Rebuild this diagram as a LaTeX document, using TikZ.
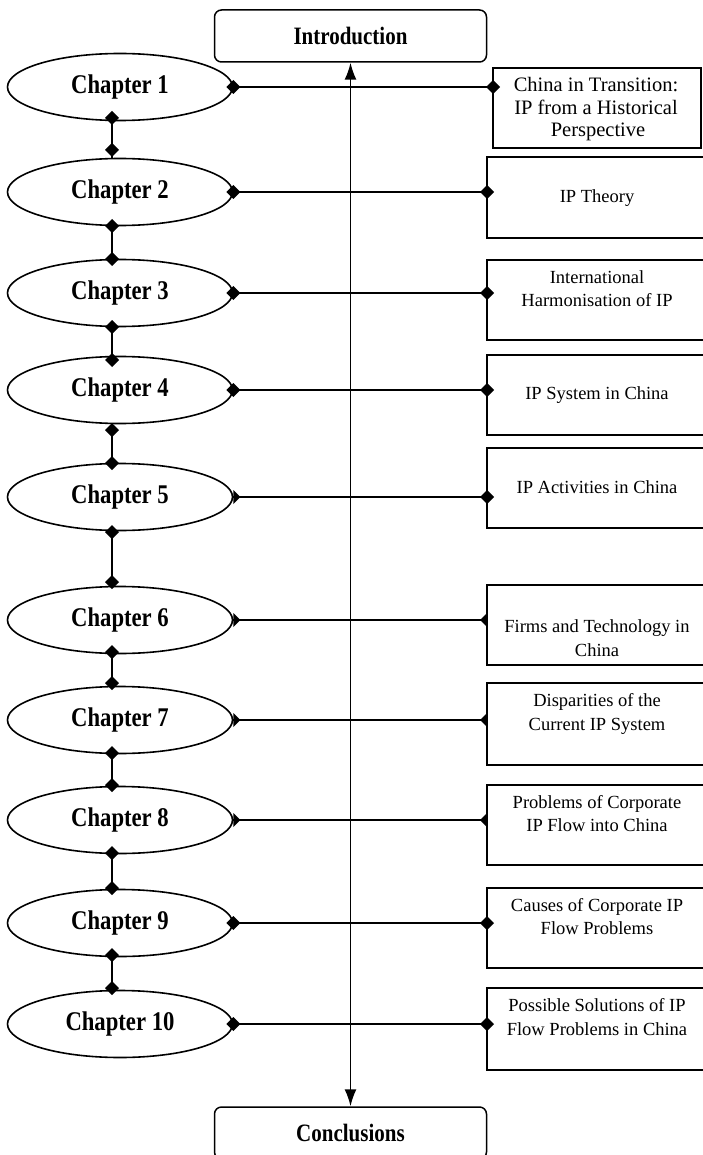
\documentclass[tikz,border=0pt]{standalone}
\usepackage{fontspec}
\setmainfont{Liberation Serif}
\newfontfamily\chapfont[FakeStretch=0.84]{Liberation Serif}
\usetikzlibrary{arrows.meta,shapes.geometric}

% filled markers on the connector ends
\newcommand\fulldia[1]{\fill (#1) +(-7,0) -- +(0,-7) -- +(7,0) -- +(0,7) -- cycle;}
\newcommand\halfright[1]{\fill (#1) +(0,-7) -- +(7,0) -- +(0,7) -- cycle;}
\newcommand\halfleft[1]{\fill (#1) +(0,-7) -- +(-7,0) -- +(0,7) -- cycle;}

\tikzset{
  chap/.style={ellipse, draw, line width=1.6pt, minimum width=225pt, minimum height=67pt,
    inner sep=0pt, font=\chapfont\bfseries\fontsize{27}{29}\selectfont},
  endbox/.style={rectangle, rounded corners=7pt, draw, line width=1.5pt, minimum width=272pt,
    minimum height=52pt, inner sep=0pt, font=\chapfont\bfseries\fontsize{25}{28}\selectfont},
  topic/.style={rectangle, draw, line width=1.5pt, anchor=north west, inner sep=0pt, outer sep=0pt},
  topictext/.style={align=center, inner sep=0pt, font=\fontsize{18.5}{23.5}\selectfont},
  link/.style={line width=1.6pt},
  spine/.style={line width=1.6pt, {Latex[length=17pt,width=12pt]}-{Latex[length=17pt,width=12pt]}}
}

\begin{document}
\begin{tikzpicture}[x=1pt, y=-1pt]
\useasboundingbox (0,0) rectangle (702,1155);

% introduction and conclusions
\node[endbox] (intro) at (350.5,36) {Introduction};
\node[endbox] (concl) at (350.5,1133) {Conclusions};

% chapters
\foreach \i/\y in {1/87,2/192,3/293,4/390,5/497,6/620,7/720,8/820,9/923,10/1024}
  \node[chap] (c\i) at (120,\y) {Chapter \i};

% topic boxes
\node[topic, minimum width=208pt, minimum height=80pt] (b1) at (493,68) {};
\foreach \i/\t/\b in {2/157/238,3/260/340,4/355/435,5/448/528,6/585/665,
                      7/683/765,8/785/865,9/888/968,10/988/1070}
  \node[topic, minimum width=225pt, minimum height={(\b-\t)*1pt}] (b\i) at (487,\t) {};

% topic texts
\node[topictext, font=\fontsize{20.5}{22.5}\selectfont] (t1) at (596,109.5)
  {China in Transition:\\IP from a Historical\hspace*{14pt}\\\hspace*{4pt}Perspective};
\node[topictext] (t2) at (597,198) {IP Theory};
\node[topictext] (t3) at (597,288.5) {International\\Harmonisation of IP};
\node[topictext] (t4) at (597,395) {IP System in China};
\node[topictext] (t5) at (597,487) {IP Activities in China};
\node[topictext] (t6) at (597,638) {Firms and Technology in\\China};
\node[topictext] (t7) at (597,714) {Disparities of the\\Current IP System};
\node[topictext] (t8) at (597,813.5) {Problems of Corporate\\IP Flow into China};
\node[topictext] (t9) at (597,916.5) {Causes of Corporate IP\\Flow Problems};
\node[topictext] (t10) at (597,1017) {Possible Solutions of IP\\Flow Problems in China};

% central arrow between introduction and conclusions
\draw[spine] (intro.south) -- (intro.south |- concl.north);

% chapter to topic connectors
\foreach \i in {1,...,10}
  \draw[link] (c\i.east) -- (b\i.west |- c\i.east);
\foreach \i in {1,2,3,4,9,10}{
  \fulldia{c\i.east}
  \fulldia{b\i.west |- c\i.east}
}
\halfright{c5.east}
\fulldia{b5.west |- c5.east}
\foreach \i in {6,7,8}{
  \halfright{c\i.east}
  \halfleft{b\i.west |- c\i.east}
}

% chapter to chapter connectors
\coordinate (sp) at (112,0);
\foreach \a/\b in {1/2,2/3,3/4,4/5,5/6,6/7,7/8,8/9,9/10}
  \draw[link] (c\a.south -| sp) -- (c\b.north -| sp);
\foreach \y in {118,150,226,259,327,360,430,463,532,582,652,683,753,785,853,888,955,988}{
  \fulldia{112,\y}
}

\end{tikzpicture}
\end{document}
